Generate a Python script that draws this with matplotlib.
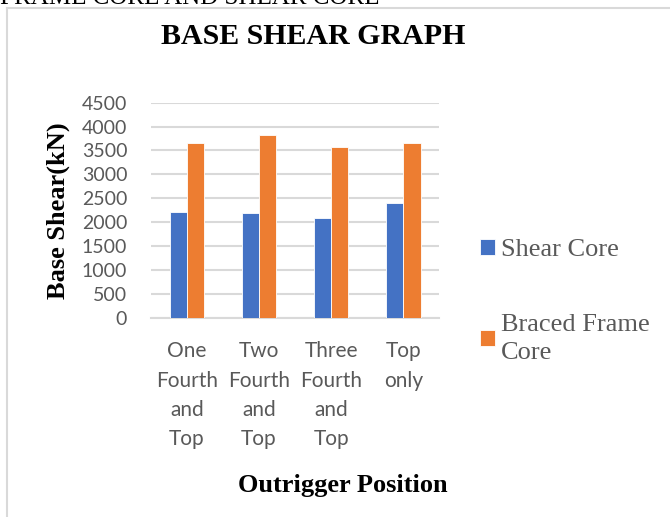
import matplotlib.pyplot as plt
import numpy as np
from matplotlib.lines import Line2D

# data
categories = ["One\nFourth\nand\nTop", "Two\nFourth\nand\nTop",
              "Three\nFourth\nand\nTop", "Top\nonly"]
shear_core = [2220, 2190, 2095, 2410]
braced_frame_core = [3650, 3825, 3565, 3650]
y_ticks = [0, 500, 1000, 1500, 2000, 2500, 3000, 3500, 4000, 4500]

blue = '#4472c4'
orange = '#ed7d31'
grey_text = '#595959'
grid_col = '#d9d9d9'

fig = plt.figure(figsize=(6.7, 5.17), dpi=100)
ax = fig.add_axes([0.225, 0.3855, 0.4308, 0.4159])

x = np.arange(len(categories))
w = 0.24
ax.bar(x - w / 2, shear_core, w, color=blue, edgecolor='white', linewidth=0.6,
       label='Shear Core', zorder=3)
ax.bar(x + w / 2, braced_frame_core, w, color=orange, edgecolor='white', linewidth=0.6,
       label='Braced Frame\nCore', zorder=3)

ax.set_xlim(-0.5, len(categories) - 0.5)
ax.set_ylim(0, 4500)
ax.set_yticks(y_ticks)
ax.set_xticks(x)
ax.set_xticklabels(categories, linespacing=1.58)
ax.grid(axis='y', color=grid_col, linewidth=1.5, zorder=0)
for s in ['top', 'right', 'left']:
    ax.spines[s].set_visible(False)
ax.spines['bottom'].set_color(grid_col)
ax.spines['bottom'].set_linewidth(1.5)
ax.tick_params(axis='y', length=0, pad=17, labelsize=14, labelcolor=grey_text)
ax.tick_params(axis='x', length=0, pad=17, labelsize=15, labelcolor=grey_text)
for lbl in ax.get_xticklabels() + ax.get_yticklabels():
    lbl.set_fontfamily('Lato')

# titles and axis labels
fig.text(0.468, 0.93, 'BASE SHEAR GRAPH', fontsize=21.5, fontweight='bold',
         family='Liberation Serif', ha='center', va='center')
fig.text(0.087, 0.592, 'Base Shear(kN)', fontsize=19, fontweight='bold',
         family='Liberation Serif', rotation=90, ha='center', va='center')
fig.text(0.512, 0.06, 'Outrigger Position', fontsize=19, fontweight='bold',
         family='Liberation Serif', ha='center', va='center')

# cut off text above the chart frame
fig.text(0.0, 1 - 4 / 517, 'FRAME CORE AND SHEAR CORE', fontsize=18,
         family='Liberation Serif', ha='left', va='baseline')

leg = fig.legend(loc='upper left', bbox_to_anchor=(0.681, 0.584), frameon=False,
                 prop={'family': 'Liberation Serif', 'size': 19},
                 labelspacing=2.0, handlelength=0.55, handleheight=0.55,
                 handletextpad=0.25)
for t in leg.get_texts():
    t.set_color(grey_text)
    t.set_linespacing(1.35)

# chart border
fig.add_artist(Line2D([7 / 670, 7 / 670], [0, 1 - 8 / 517], transform=fig.transFigure,
                      color=grid_col, linewidth=1.5))
fig.add_artist(Line2D([7 / 670, 1], [1 - 8 / 517, 1 - 8 / 517], transform=fig.transFigure,
                      color=grid_col, linewidth=1.5))

fig.savefig('out.png', dpi=100)
